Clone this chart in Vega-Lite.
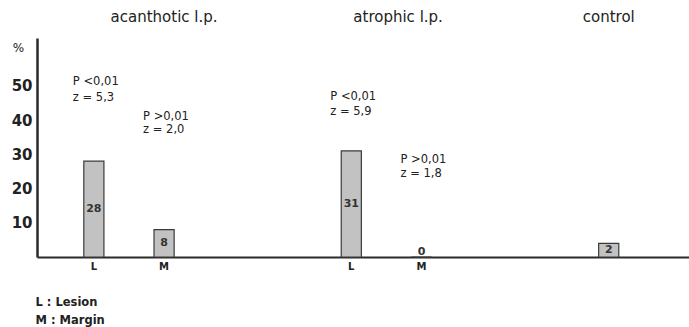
{
  "$schema": "https://vega.github.io/schema/vega-lite/v6.json",
  "width": 652,
  "height": 219,
  "autosize": {"type": "none"},
  "padding": {"left": 37, "top": 38, "right": 0, "bottom": 70},
  "background": "white",
  "config": {"view": {"stroke": null}, "font": "DejaVu Sans"},
  "datasets": {
    "bars": [
      {"group": "acanthotic l.p.", "site": "L", "slot": "aL", "pct": 28, "label": "28"},
      {"group": "acanthotic l.p.", "site": "M", "slot": "aM", "pct": 8, "label": "8"},
      {"group": "atrophic l.p.", "site": "L", "slot": "tL", "pct": 31, "label": "31"},
      {"group": "atrophic l.p.", "site": "M", "slot": "tM", "pct": 0, "label": "0"},
      {"group": "control", "site": "", "slot": "c", "pct": 4, "label": "2"}
    ],
    "stats": [
      {"slot": "aL", "text": "P <0,01", "at": 51.2},
      {"slot": "aL", "text": "z = 5,3", "at": 46.6},
      {"slot": "aM", "text": "P >0,01", "at": 40.9},
      {"slot": "aM", "text": "z = 2,0", "at": 37.0},
      {"slot": "tL", "text": "P <0,01", "at": 46.8},
      {"slot": "tL", "text": "z = 5,9", "at": 42.4},
      {"slot": "tM", "text": "P >0,01", "at": 28.4},
      {"slot": "tM", "text": "z = 1,8", "at": 24.2}
    ],
    "groups": [
      {"slot": "aM", "name": "acanthotic l.p."},
      {"slot": "s15", "name": "atrophic l.p."},
      {"slot": "c", "name": "control"}
    ]
  },
  "encoding": {
    "x": {
      "field": "slot",
      "type": "nominal",
      "scale": {
        "domain": ["s0", "s1", "aL", "s3", "s4", "aM", "s6", "s7", "s8", "s9", "s10", "s11", "s12", "tL", "s14", "s15", "tM", "s17", "s18", "s19", "s20", "s21", "s22", "s23", "c", "s25", "s26", "s27"],
        "paddingInner": 0.14,
        "paddingOuter": 0
      },
      "axis": {
        "title": ["L : Lesion", "M : Margin"],
        "titleAnchor": "start",
        "titleAlign": "left",
        "titleX": -2,
        "titleY": 39,
        "titleBaseline": "top",
        "titleFontSize": 11.5,
        "titleFontWeight": "bold",
        "titleLineHeight": 18,
        "titleColor": "#222",
        "labelExpr": "(datum.value == 'aL' || datum.value == 'tL') ? 'L' : ((datum.value == 'aM' || datum.value == 'tM') ? 'M' : '')",
        "labelAngle": 0,
        "labelFontSize": 10,
        "labelFontWeight": "bold",
        "labelColor": "#222",
        "labelPadding": 4,
        "ticks": false,
        "domainColor": "#2a2a2a",
        "domainWidth": 2
      }
    }
  },
  "layer": [
    {
      "data": {"name": "bars"},
      "mark": {"type": "bar", "fill": "#c2c2c2", "stroke": "#3a3a3a", "strokeWidth": 1.2},
      "encoding": {
        "y": {
          "field": "pct",
          "type": "quantitative",
          "scale": {"domain": [0, 64]},
          "axis": {
            "title": "%",
            "titleAngle": 0,
            "titleX": -19,
            "titleY": 9,
            "titleAlign": "center",
            "titleBaseline": "middle",
            "titleFontSize": 12,
            "titleFontWeight": "normal",
            "titleColor": "#222",
            "values": [10, 20, 30, 40, 50],
            "labelFontSize": 15,
            "labelFontWeight": "bold",
            "labelColor": "#222",
            "labelPadding": 5,
            "ticks": false,
            "grid": false,
            "domainColor": "#2a2a2a",
            "domainWidth": 2.5
          }
        }
      }
    },
    {
      "data": {"name": "bars"},
      "transform": [{"calculate": "max(datum.pct / 2, 1.5)", "as": "mid"}],
      "mark": {"type": "text", "fontSize": 11, "fontWeight": "bold", "color": "#333", "baseline": "middle"},
      "encoding": {
        "y": {"field": "mid", "type": "quantitative", "scale": {"domain": [0, 64]}, "title": "%"},
        "text": {"field": "label"}
      }
    },
    {
      "data": {"name": "stats"},
      "mark": {"type": "text", "align": "left", "dx": -21, "baseline": "middle", "fontSize": 11.5, "color": "#222"},
      "encoding": {
        "y": {"field": "at", "type": "quantitative", "scale": {"domain": [0, 64]}, "title": "%"},
        "text": {"field": "text"}
      }
    },
    {
      "data": {"name": "groups"},
      "mark": {"type": "text", "align": "center", "baseline": "middle", "fontSize": 15, "color": "#222"},
      "encoding": {
        "y": {"datum": 70, "type": "quantitative", "scale": {"domain": [0, 64]}, "title": "%"},
        "text": {"field": "name"}
      }
    }
  ]
}
